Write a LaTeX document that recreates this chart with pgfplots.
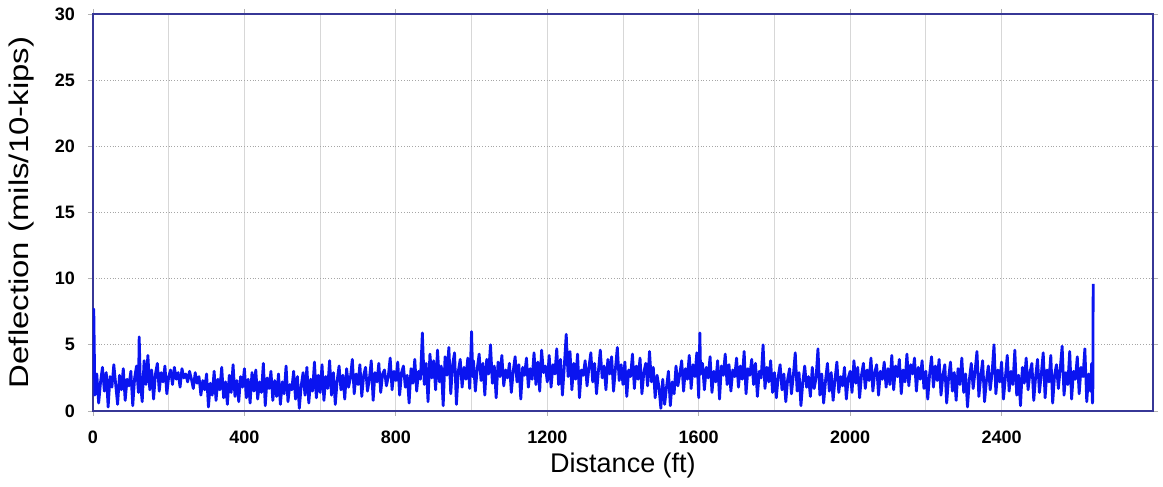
\documentclass[border=0pt]{standalone}
\usepackage{graphicx}
\usepackage{fontspec}
\setmainfont{Liberation Sans}
\usepackage{pgfplots}
\pgfplotsset{compat=1.18}
\definecolor{framec}{RGB}{55,55,150}
\definecolor{linec}{RGB}{10,20,240}
\definecolor{gridc}{RGB}{215,215,215}

\begin{document}
\begin{tikzpicture}
\useasboundingbox (-46.5pt,-38pt) rectangle (535pt,205.5pt);
\begin{axis}[
  scale only axis, width=530pt, height=198.5pt,
  xmin=0, xmax=2800, ymin=0, ymax=30,
  xtick={0,400,...,2400}, ytick={0,5,...,30},
  minor x tick num=1,
  xmajorgrids, xminorgrids, ymajorgrids,
  x grid style={gridc, line width=0.5pt},
  y grid style={gray!70, densely dotted, line width=0.5pt},
  minor grid style={gridc, line width=0.5pt},
  axis line style={framec, line width=1pt},
  tick style={gray!60, line width=0.4pt},
  major tick length=2.5pt, minor tick length=0pt,
  tick align=outside,
  /pgf/number format/assume math mode=true,
  /pgf/number format/1000 sep={},
  ticklabel style={font=\fontsize{9}{10}\selectfont\bfseries},
  xticklabel style={yshift=-4pt},
  yticklabel style={xshift=-3pt},
  xlabel={Distance (ft)},
  ylabel={\scalebox{1.22}[1]{Deflection (mils/10-kips)}},
  label style={font=\fontsize{13.5}{15}\selectfont},
  xlabel style={at={(axis description cs:0.5,0)}, anchor=center, yshift=-27.5pt},
  ylabel style={at={(axis description cs:0,0.5)}, anchor=center, yshift=35.5pt},
]
\addplot[linec, line width=1.4pt, line join=round] coordinates {
(0,2.4)(2,7.7)(5,1.2)(10,2.8)(15,0.6)(20,2.2)(25,3.3)(30,1.5)(35,2.9)(40,0.3)(45,2.6)(50,1.8)(55,3.5)(60,2.0)(65,0.5)(70,2.7)(75,1.6)(80,3.2)(85,0.8)(90,2.4)(95,1.9)
(100,3.0)(105,0.4)(110,2.5)(115,3.4)(120,1.4)(122,5.6)(125,2.2)(130,0.7)(135,3.8)(140,2.0)(145,4.2)(150,1.6)(155,3.1)(160,0.9)(165,2.8)(170,3.6)(175,1.5)(180,2.9)(185,2.2)(190,3.4)(195,1.3)
(200,2.6)(205,3.1)(210,2.0)(215,3.3)(220,2.4)(225,2.9)(230,1.8)(235,3.2)(240,2.5)(245,2.8)(250,2.2)(255,3.0)(260,2.4)(265,1.7)(270,2.9)(275,2.1)(280,2.6)(285,1.2)(290,2.3)(295,1.6)
(300,2.8)(305,0.3)(310,2.1)(315,1.2)(320,3.0)(325,0.8)(330,2.4)(335,1.6)(340,3.3)(345,1.0)(350,2.2)(355,0.5)(360,2.7)(365,1.4)(370,3.5)(375,1.1)(380,2.3)(385,0.7)(390,2.6)(395,1.8)
(400,3.2)(405,1.0)(410,2.4)(415,0.6)(420,2.9)(425,1.5)(430,3.1)(435,0.9)(440,2.2)(445,1.4)(450,3.6)(455,0.4)(460,2.5)(465,1.7)(470,3.0)(475,0.8)(480,2.3)(485,1.1)(490,2.8)(495,0.5)
(500,2.2)(505,1.3)(510,3.4)(515,0.7)(520,2.0)(525,1.6)(530,3.0)(535,0.9)(540,2.6)(545,0.2)(550,1.9)(555,2.9)(560,1.2)(565,3.3)(570,0.6)(575,2.4)(580,1.5)(585,3.7)(590,1.0)(595,2.7)
(600,1.4)(605,3.5)(610,0.8)(615,2.6)(620,1.7)(625,3.8)(630,1.2)(635,2.9)(640,0.5)(645,2.3)(650,3.4)(655,1.6)(660,2.7)(665,0.9)(670,3.2)(675,1.8)(680,2.5)(685,3.9)(690,1.3)(695,2.8)
(700,2.0)(705,3.5)(710,1.1)(715,2.7)(720,3.3)(725,1.5)(730,2.4)(735,3.8)(740,0.8)(745,2.9)(750,2.2)(755,3.6)(760,1.4)(765,2.8)(770,3.1)(775,1.9)(780,2.6)(785,4.0)(790,1.6)(795,3.0)
(800,2.3)(805,3.7)(810,1.2)(815,2.9)(820,3.4)(825,1.8)(830,2.7)(835,0.6)(840,3.2)(845,2.1)(850,3.9)(855,1.5)(860,3.0)(865,2.4)(870,5.9)(875,2.0)(880,3.6)(885,0.7)(890,4.3)(895,2.5)
(900,3.8)(905,1.6)(910,4.6)(915,2.2)(920,3.4)(925,0.4)(930,4.1)(935,2.7)(940,4.8)(945,1.3)(950,3.5)(955,4.4)(960,0.5)(965,3.0)(970,3.9)(975,1.8)(980,3.3)(985,2.4)(990,4.0)(995,1.7)
(1000,6.0)(1003,2.6)(1005,3.8)(1010,1.5)(1015,3.2)(1020,4.3)(1025,2.3)(1030,3.6)(1035,1.2)(1040,3.9)(1045,2.8)(1050,5.0)(1055,2.1)(1060,3.4)(1065,1.0)(1070,3.7)(1075,2.6)(1080,4.2)(1085,1.9)(1090,3.1)(1095,2.5)
(1100,3.6)(1105,1.4)(1110,3.0)(1115,4.1)(1120,2.2)(1125,3.5)(1130,0.9)(1135,3.3)(1140,2.7)(1145,4.0)(1150,1.8)(1155,3.2)(1160,2.4)(1165,4.4)(1170,2.0)(1175,3.7)(1180,1.5)(1185,4.6)(1190,2.9)(1195,3.4)
(1200,2.2)(1205,4.2)(1210,1.8)(1215,3.5)(1220,2.8)(1225,4.7)(1230,2.0)(1235,3.9)(1240,1.2)(1245,3.4)(1250,5.8)(1255,2.6)(1260,4.5)(1265,1.6)(1270,3.6)(1275,2.4)(1280,4.3)(1285,1.0)(1290,3.1)(1295,2.7)
(1300,3.8)(1305,1.9)(1310,3.3)(1315,4.4)(1320,2.2)(1325,3.6)(1330,1.3)(1335,3.0)(1340,4.6)(1345,2.5)(1350,3.4)(1355,1.6)(1360,3.9)(1365,2.8)(1370,4.1)(1375,1.5)(1380,3.2)(1385,4.8)(1390,2.3)(1395,3.5)
(1400,2.0)(1405,3.7)(1410,1.1)(1415,3.1)(1420,2.6)(1425,4.3)(1430,1.7)(1435,3.4)(1440,2.4)(1445,4.0)(1450,1.3)(1455,2.9)(1460,3.6)(1465,1.9)(1470,4.5)(1475,2.2)(1480,3.3)(1485,1.0)(1490,2.7)(1495,1.8)
(1500,0.2)(1505,2.4)(1510,0.5)(1515,1.8)(1520,3.0)(1525,0.4)(1530,2.2)(1535,1.3)(1540,3.4)(1545,1.9)(1550,2.8)(1555,3.8)(1560,1.5)(1565,3.2)(1570,2.4)(1575,4.2)(1580,1.7)(1585,3.5)(1590,2.6)(1595,4.4)
(1600,1.0)(1603,5.9)(1605,2.8)(1610,3.6)(1615,1.6)(1620,3.3)(1625,2.5)(1630,4.1)(1635,1.4)(1640,3.0)(1645,2.2)(1650,3.8)(1655,0.9)(1660,3.4)(1665,2.7)(1670,4.3)(1675,2.0)(1680,3.5)(1685,1.5)(1690,3.1)(1695,2.6)
(1700,4.0)(1705,1.8)(1710,3.4)(1715,2.4)(1720,4.5)(1725,1.3)(1730,3.2)(1735,2.7)(1740,3.9)(1745,2.0)(1750,3.6)(1755,1.1)(1760,3.0)(1765,2.5)(1770,5.0)(1775,1.7)(1780,3.3)(1785,2.2)(1790,3.8)(1795,1.4)
(1800,2.9)(1805,1.0)(1810,2.6)(1815,3.5)(1820,1.6)(1825,2.8)(1830,0.7)(1835,2.4)(1840,3.2)(1845,1.3)(1850,2.7)(1855,4.4)(1860,1.5)(1865,2.9)(1870,0.4)(1875,2.2)(1880,3.4)(1885,1.8)(1890,2.6)(1895,1.1)
(1900,3.3)(1905,1.7)(1910,2.5)(1915,4.7)(1920,1.2)(1925,2.8)(1930,0.6)(1935,2.3)(1940,3.6)(1945,1.5)(1950,2.9)(1955,0.8)(1960,2.4)(1965,3.7)(1970,1.4)(1975,2.6)(1980,1.9)(1985,3.3)(1990,0.9)(1995,2.5)
(2000,3.0)(2005,1.4)(2010,3.8)(2015,2.1)(2020,3.3)(2025,1.0)(2030,2.7)(2035,3.6)(2040,1.7)(2045,3.1)(2050,2.3)(2055,4.0)(2060,1.5)(2065,2.9)(2070,3.5)(2075,1.2)(2080,3.0)(2085,2.4)(2090,3.7)(2095,1.8)
(2100,3.2)(2105,2.0)(2110,4.2)(2115,1.6)(2120,3.4)(2125,2.6)(2130,3.9)(2135,1.3)(2140,3.1)(2145,2.2)(2150,4.3)(2155,1.9)(2160,3.5)(2165,2.8)(2170,4.0)(2175,1.5)(2180,3.3)(2185,2.4)(2190,3.8)(2195,1.7)
(2200,3.0)(2205,0.9)(2210,2.8)(2215,4.1)(2220,1.8)(2225,3.4)(2230,2.3)(2235,3.9)(2240,1.2)(2245,2.7)(2250,3.5)(2255,0.6)(2260,2.5)(2265,3.7)(2270,1.5)(2275,2.9)(2280,0.8)(2285,3.2)(2290,2.0)(2295,4.0)
(2300,1.4)(2305,2.8)(2310,0.3)(2315,2.4)(2320,3.6)(2325,1.7)(2330,3.0)(2335,4.5)(2340,1.1)(2345,2.6)(2350,3.8)(2355,0.7)(2360,2.3)(2365,3.4)(2370,1.6)(2375,2.9)(2380,5.0)(2385,1.3)(2390,3.1)(2395,2.2)
(2400,3.7)(2405,0.9)(2410,2.5)(2415,4.2)(2420,1.5)(2425,3.0)(2430,2.0)(2435,4.6)(2440,1.2)(2445,2.7)(2450,0.4)(2455,3.3)(2460,2.1)(2465,4.0)(2470,1.6)(2475,2.9)(2480,3.6)(2485,0.8)(2490,2.6)(2495,3.9)
(2500,1.4)(2505,2.8)(2510,4.4)(2515,1.0)(2520,3.1)(2525,2.2)(2530,4.2)(2535,0.6)(2540,2.7)(2545,3.5)(2550,1.7)(2555,3.2)(2560,4.9)(2565,1.2)(2570,2.9)(2575,2.0)(2580,4.5)(2585,0.9)(2590,3.0)(2595,2.4)
(2600,4.1)(2605,1.3)(2610,3.3)(2615,2.6)(2620,4.7)(2625,0.7)(2630,2.8)(2635,1.5)(2638,3.6)(2640,0.6)(2641,0.8)(2642,9.6)
};
\end{axis}
\end{tikzpicture}
\end{document}
